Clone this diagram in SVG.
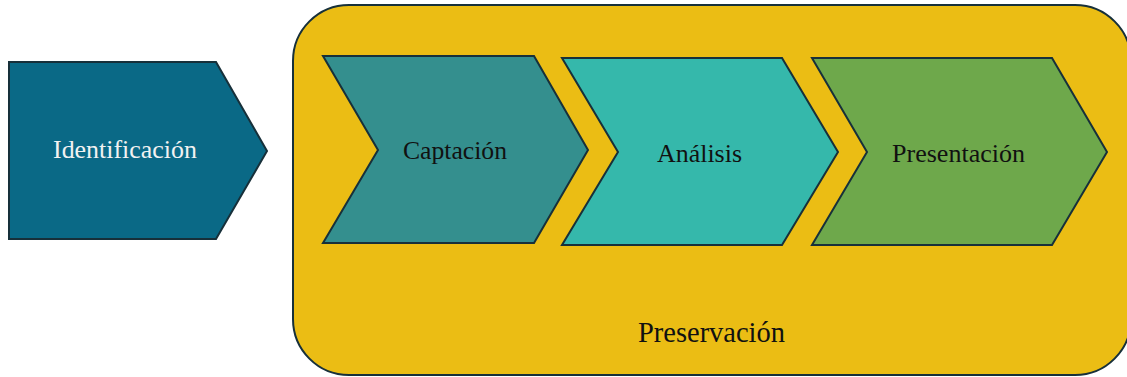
<svg xmlns="http://www.w3.org/2000/svg" width="1127" height="377" viewBox="0 0 1127 377">
  <style>
    .shape { stroke: #17303a; stroke-width: 2; stroke-linejoin: miter; }
    .label { font-family: "Liberation Serif", "Times New Roman", serif; font-size: 26px; text-anchor: middle; }
    .big { font-size: 28.5px; }
    .dark { fill: #111111; }
    .light { fill: #f2f2f2; }
  </style>
  <rect width="1127" height="377" fill="#ffffff"/>

  <!-- Preservación container -->
  <g id="preservacion">
    <rect class="shape" x="293" y="5" width="838" height="370" rx="56" ry="56" fill="#EBBD14"/>
    <text class="label big dark" x="711.5" y="342" textLength="147" lengthAdjust="spacingAndGlyphs">Preservación</text>
  </g>

  <!-- Identificación pentagon -->
  <g id="identificacion">
    <polygon class="shape" points="9,62 216,62 267,151 216,239 9,239" fill="#0A6986"/>
    <text class="label light" x="125" y="158" textLength="144" lengthAdjust="spacingAndGlyphs">Identificación</text>
  </g>

  <!-- Process chevrons -->
  <g id="captacion">
    <polygon class="shape" points="323,56 534,56 588,150 534,243 323,243 378,150" fill="#348F8E"/>
    <text class="label dark" x="455" y="159" textLength="104" lengthAdjust="spacingAndGlyphs">Captación</text>
  </g>

  <g id="analisis">
    <polygon class="shape" points="562,58 782,58 838,152 782,245 562,245 618,152" fill="#35B8AB"/>
    <text class="label dark" x="699.5" y="162" textLength="85" lengthAdjust="spacingAndGlyphs">Análisis</text>
  </g>

  <g id="presentacion">
    <polygon class="shape" points="812,58 1052,58 1107,152 1052,245 812,245 867,152" fill="#6EA84B"/>
    <text class="label dark" x="958.5" y="162" textLength="133" lengthAdjust="spacingAndGlyphs">Presentación</text>
  </g>

  <!-- no connectors: adjacency of the chevrons implies the flow -->
  <g id="connectors"/>
</svg>
